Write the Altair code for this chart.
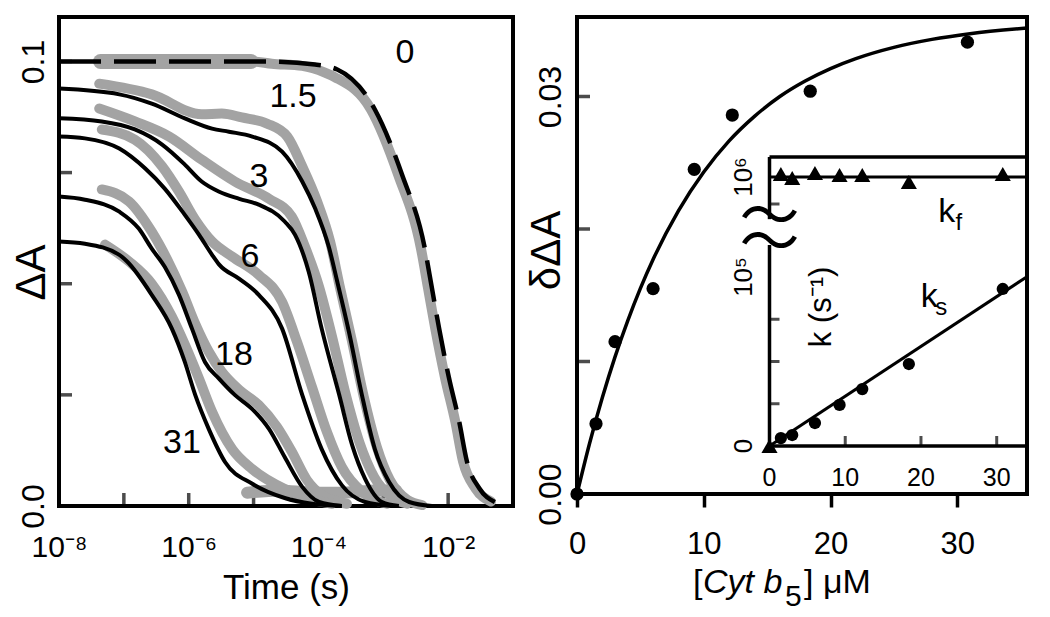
import altair as alt
import pandas as pd

FONT = "Liberation Sans"
GRAY = "#a3a3a3"

# ---------------- Left panel: decays of ΔA vs time (log10 t values) ----------------
fit0_logt = [-8.00, -5.50, -4.82, -4.05, -3.71, -3.13, -2.71, -2.36, -2.25, -2.14, -1.99, -1.83, -1.71, -1.52, -1.28]
fit0_dA = [0.1000, 0.1000, 0.1000, 0.0993, 0.0982, 0.0892, 0.0745, 0.0580, 0.0490, 0.0400, 0.0290, 0.0190, 0.0100, 0.0040, 0.0009]

fit15_logt = [-8.00, -7.07, -6.57, -6.06, -5.64, -5.38, -5.02, -4.56, -4.25, -4.05, -3.84, -3.71, -3.53, -3.33, -3.13, -2.91, -2.60, -2.25]
fit15_dA = [0.0939, 0.0926, 0.0905, 0.0872, 0.0849, 0.0842, 0.0831, 0.0797, 0.0730, 0.0669, 0.0583, 0.0505, 0.0392, 0.0250, 0.0128, 0.0054, 0.0009, 0.0000]

fit3_logt = [-8.00, -7.34, -6.83, -6.41, -6.06, -5.80, -5.53, -5.22, -4.92, -4.52, -4.36, -4.15, -3.95, -3.68, -3.48, -3.28, -3.02, -2.76]
fit3_dA = [0.0872, 0.0865, 0.0847, 0.0813, 0.0768, 0.0730, 0.0707, 0.0691, 0.0678, 0.0640, 0.0610, 0.0527, 0.0399, 0.0250, 0.0137, 0.0061, 0.0009, 0.0000]

fit6_logt = [-8.00, -7.60, -7.07, -6.67, -6.37, -6.06, -5.84, -5.64, -5.53, -5.22, -4.92, -4.56, -4.25, -3.95, -3.64, -3.28, -2.87]
fit6_dA = [0.0831, 0.0827, 0.0804, 0.0759, 0.0714, 0.0655, 0.0610, 0.0565, 0.0543, 0.0511, 0.0475, 0.0399, 0.0250, 0.0128, 0.0047, 0.0009, 0.0000]

fit18_logt = [-8.00, -7.60, -7.07, -6.77, -6.57, -6.37, -6.15, -5.95, -5.75, -5.53, -5.29, -5.02, -4.76, -4.52, -4.25, -3.99, -3.64]
fit18_dA = [0.0696, 0.0689, 0.0662, 0.0624, 0.0579, 0.0538, 0.0475, 0.0399, 0.0324, 0.0286, 0.0250, 0.0218, 0.0173, 0.0110, 0.0043, 0.0009, 0.0000]

fit31_logt = [-8.00, -7.60, -7.07, -6.95, -6.57, -6.26, -6.06, -5.90, -5.69, -5.44, -5.02, -4.52, -4.10, -3.64]
fit31_dA = [0.0595, 0.0590, 0.0565, 0.0550, 0.0475, 0.0399, 0.0324, 0.0250, 0.0173, 0.0099, 0.0050, 0.0018, 0.0005, 0.0000]

# measured (grey) traces
data0_logt = [-7.34, -5.02, -4.72, -4.25, -3.90, -3.75, -3.19, -2.77, -2.42, -2.31, -2.20, -2.05, -1.89, -1.77, -1.58, -1.34]
data0_dA = [0.1000, 0.1000, 0.0995, 0.0990, 0.0975, 0.0965, 0.0892, 0.0745, 0.0580, 0.0490, 0.0400, 0.0290, 0.0190, 0.0100, 0.0040, 0.0010]
data0top_logt = [-7.36, -5.04]
data0top_dA = [0.1000, 0.1000]

data15_logt = [-7.38, -6.57, -5.80, -5.49, -5.18, -4.79, -4.48, -4.25, -4.02, -3.82, -3.67, -3.48, -3.30, -3.10, -2.90, -2.63, -2.40]
data15_dA = [0.0950, 0.0926, 0.0881, 0.0883, 0.0874, 0.0860, 0.0831, 0.0764, 0.0685, 0.0595, 0.0493, 0.0369, 0.0245, 0.0133, 0.0059, 0.0014, 0.0002]

data3_logt = [-7.38, -6.83, -6.30, -5.80, -5.29, -4.76, -4.41, -4.21, -3.99, -3.79, -3.59, -3.37, -3.14, -2.87, -2.63]
data3_dA = [0.0894, 0.0865, 0.0831, 0.0779, 0.0730, 0.0691, 0.0651, 0.0584, 0.0493, 0.0381, 0.0257, 0.0144, 0.0065, 0.0020, 0.0005]

data6_logt = [-7.34, -6.83, -6.41, -6.15, -5.90, -5.64, -5.33, -4.92, -4.56, -4.33, -4.10, -3.87, -3.64, -3.33, -2.94]
data6_dA = [0.0847, 0.0824, 0.0764, 0.0707, 0.0644, 0.0595, 0.0561, 0.0520, 0.0459, 0.0369, 0.0268, 0.0167, 0.0088, 0.0032, 0.0005]

data18_logt = [-7.34, -6.92, -6.57, -6.33, -6.10, -5.90, -5.69, -5.49, -5.22, -4.92, -4.64, -4.41, -4.18, -3.95, -3.56]
data18_dA = [0.0712, 0.0685, 0.0617, 0.0554, 0.0482, 0.0410, 0.0347, 0.0302, 0.0261, 0.0227, 0.0178, 0.0122, 0.0059, 0.0025, 0.0005]

data31_logt = [-7.29, -6.92, -6.57, -6.26, -6.06, -5.84, -5.64, -5.33, -5.02, -4.52, -4.10, -3.79]
data31_dA = [0.0588, 0.0550, 0.0500, 0.0426, 0.0363, 0.0286, 0.0212, 0.0128, 0.0083, 0.0038, 0.0014, 0.0005]

database_logt = [-5.10, -4.60, -4.10, -3.60, -3.10, -2.80]
database_dA = [0.0030, 0.0035, 0.0030, 0.0030, 0.0035, 0.0035]

curve_labels = ["0", "1.5", "3", "6", "18", "31"]
label_logt = [-2.665, -4.392, -4.916, -5.055, -5.302, -6.104]
label_dA = [0.1018, 0.0919, 0.0741, 0.0559, 0.0340, 0.0142]

left_xtick_vals = [1e-7, 1e-6, 1e-5, 1e-4, 1e-3, 1e-2]
left_ytick_vals = [0.025, 0.05, 0.075, 0.1]

# ---------------- Right panel: amplitude vs [Cyt b5] ----------------
conc = [0, 1.5, 3, 6, 9.25, 12.25, 18.4, 30.8]
amp = [0.0, 0.0053, 0.0115, 0.0155, 0.0245, 0.0286, 0.0304, 0.0341]
amp_fit_conc = [0, 1, 2, 3, 4, 5, 6, 8, 10, 12, 14, 16, 18, 20, 22, 25, 28, 31, 35.5]
amp_fit_val = [0, 0.00385, 0.00728, 0.01035, 0.01307, 0.01552, 0.0177, 0.02137, 0.0243, 0.02665,
               0.0285, 0.0300, 0.03117, 0.03211, 0.03286, 0.03371, 0.03431, 0.03474, 0.03517]
right_ytick_vals = [0.01, 0.02, 0.03]

# inset: rate constants
k_conc = [1.5, 3, 6, 9.25, 12.25, 18.4, 30.8]
ks_val = [4700, 6500, 13600, 24300, 33700, 48500, 92900]
kf_val = [1.028e6, 0.991e6, 1.037e6, 1.019e6, 1.019e6, 0.954e6, 1.028e6]
ks_fit_conc = [0, 34]
ks_fit_val = [0, 103000]
kf_fit_conc = [0, 34]
kf_fit_val = [1.0e6, 1.0e6]
inset_xmax = 34
inset_ytop = 1.185e6
inset_break = [385000, 615000]
inset_xtick_vals = [10, 20, 30]
inset_ytick_vals = [25000, 50000, 75000, 750000]
inset_xlabels = ["0", "10", "20", "30"]
inset_xlabel_vals = [0, 10, 20, 30]
inset_ylabels = ["0", "10⁵", "10⁶"]
inset_ylabel_vals = [0, 1e5, 1e6]
brace_vals = [612000, 388000]


def decay_table(logt, vals, name):
    return pd.DataFrame({"t": [10.0 ** v for v in logt], "dA": vals,
                         "curve": name, "i": list(range(len(vals)))})


solid_df = pd.concat([decay_table(fit15_logt, fit15_dA, "1.5"), decay_table(fit3_logt, fit3_dA, "3"),
                      decay_table(fit6_logt, fit6_dA, "6"), decay_table(fit18_logt, fit18_dA, "18"),
                      decay_table(fit31_logt, fit31_dA, "31")])
dashed_df = decay_table(fit0_logt, fit0_dA, "0")
gray_df = pd.concat([decay_table(data0_logt, data0_dA, "0"), decay_table(data15_logt, data15_dA, "1.5"),
                     decay_table(data3_logt, data3_dA, "3"), decay_table(data6_logt, data6_dA, "6"),
                     decay_table(data18_logt, data18_dA, "18"), decay_table(data31_logt, data31_dA, "31")])
gray_top_df = decay_table(data0top_logt, data0top_dA, "0top")
gray_base_df = decay_table(database_logt, database_dA, "base")
label_df = pd.DataFrame({"t": [10.0 ** v for v in label_logt], "dA": label_dA, "label": curve_labels})
lxt_df = pd.DataFrame({"t": left_xtick_vals, "dA": [0.0] * len(left_xtick_vals)})
lyt_df = pd.DataFrame({"t": [1e-8] * len(left_ytick_vals), "dA": left_ytick_vals})

x_left = alt.Scale(type="log", domain=[1e-8, 1e-1], nice=False)
y_left = alt.Scale(domain=[0, 0.11], nice=False, zero=False)

ax_lx = alt.Axis(values=[1e-8, 1e-6, 1e-4, 1e-2],
                 labelExpr="datum.value < 1e-7 ? '10⁻⁸' : (datum.value < 1e-5 ? '10⁻⁶' : (datum.value < 1e-3 ? '10⁻⁴' : '10⁻²'))",
                 ticks=False, tickSize=0, domain=False, grid=False, labelFontSize=30, labelPadding=26,
                 labelFlush=False, labelOverlap=False, labelColor="black",
                 title="Time (s)", titleFontSize=35, titleFontWeight="normal", titleColor="black",
                 titleBaseline="alphabetic", titleY=92)
ax_ly = alt.Axis(values=[0, 0.1], format=".1f", labelAngle=270, labelAlign="center", labelBaseline="bottom",
                 labelFontSize=32, labelPadding=9, ticks=False, tickSize=0, domain=False, grid=False,
                 labelFlush=False, labelOverlap=False, labelColor="black",
                 title="ΔA", titleFontSize=42, titleFontWeight="normal", titleColor="black",
                 titleAngle=270, titleAlign="center", titleBaseline="middle", titleX=-28, titleY=255)


def LX():
    return alt.X("t:Q", scale=x_left, axis=ax_lx)


def LY():
    return alt.Y("dA:Q", scale=y_left, axis=ax_ly)


l_xticks = alt.Chart(lxt_df).mark_tick(orient="vertical", size=13, thickness=3.5, yOffset=-6.5, color="black").encode(x=LX(), y=LY())
l_yticks = alt.Chart(lyt_df).mark_tick(orient="horizontal", size=13, thickness=3.5, xOffset=6.5, color="black").encode(x=LX(), y=LY())
l_gray_base = alt.Chart(gray_base_df).mark_line(color=GRAY, strokeWidth=12, strokeCap="round", interpolate="monotone").encode(
    x=LX(), y=LY(), detail="curve:N", order="i:Q")
l_gray_top = alt.Chart(gray_top_df).mark_line(color=GRAY, strokeWidth=15, strokeCap="round").encode(
    x=LX(), y=LY(), detail="curve:N", order="i:Q")
l_gray = alt.Chart(gray_df).mark_line(color=GRAY, strokeWidth=10, strokeCap="round", strokeJoin="round", interpolate="monotone").encode(
    x=LX(), y=LY(), detail="curve:N", order="i:Q")
l_dashed = alt.Chart(dashed_df).mark_line(color="black", strokeWidth=4.5, strokeDash=[42, 13], interpolate="monotone").encode(
    x=LX(), y=LY(), order="i:Q")
l_solid = alt.Chart(solid_df).mark_line(color="black", strokeWidth=4, interpolate="monotone").encode(
    x=LX(), y=LY(), detail="curve:N", order="i:Q")
l_labels = alt.Chart(label_df).mark_text(fontSize=34, align="center", baseline="middle", color="black").encode(
    x=LX(), y=LY(), text="label:N")

left = alt.layer(l_xticks, l_yticks, l_gray_base, l_gray_top, l_gray, l_dashed, l_solid, l_labels).properties(width=454, height=489)

# ---------------- right panel ----------------
x_r = alt.Scale(domain=[0, 35.5], nice=False, zero=False)
y_r = alt.Scale(domain=[0, 0.036], nice=False, zero=False)
ax_rx = alt.Axis(values=[0, 10, 20, 30], ticks=True, tickSize=13, tickWidth=3.5, tickColor="black", domain=False, grid=False,
                 labelFontSize=31, labelPadding=22, labelFlush=False, labelOverlap=False, labelColor="black", title="")
ax_ry = alt.Axis(values=[0, 0.03], format=".2f", labelAngle=270, labelAlign="center", labelBaseline="bottom",
                 labelFontSize=32, labelPadding=10, ticks=False, tickSize=0, domain=False, grid=False,
                 labelFlush=False, labelOverlap=False, labelColor="black",
                 title="δΔA", titleFontSize=42, titleFontWeight="normal", titleColor="black",
                 titleAngle=270, titleAlign="center", titleBaseline="middle", titleX=-31, titleY=233)


def RX():
    return alt.X("c:Q", scale=x_r, axis=ax_rx)


def RY():
    return alt.Y("v:Q", scale=y_r, axis=ax_ry)


pts_df = pd.DataFrame({"c": conc, "v": amp})
fit_df = pd.DataFrame({"c": amp_fit_conc, "v": amp_fit_val})
ryt_df = pd.DataFrame({"c": [0.0] * len(right_ytick_vals), "v": right_ytick_vals})

r_fit = alt.Chart(fit_df).mark_line(color="black", strokeWidth=3.5, interpolate="monotone").encode(x=RX(), y=RY())
r_pts = alt.Chart(pts_df).mark_circle(size=175, color="black", opacity=1).encode(x=RX(), y=RY())
r_yticks = alt.Chart(ryt_df).mark_tick(orient="horizontal", size=13, thickness=3.5, xOffset=6.5, color="black").encode(x=RX(), y=RY())

one = pd.DataFrame({"a": [0]})
t1 = alt.Chart(one).mark_text(text="[", fontSize=34, align="left", baseline="alphabetic", color="black").encode(
    x=alt.value(116), y=alt.value(576))
t2 = alt.Chart(one).mark_text(text="Cyt b", fontSize=34, fontStyle="italic", align="left", baseline="alphabetic", color="black").encode(
    x=alt.value(126), y=alt.value(576))
t3 = alt.Chart(one).mark_text(text="5", fontSize=30, align="left", baseline="alphabetic", color="black").encode(
    x=alt.value(208), y=alt.value(589))
t4 = alt.Chart(one).mark_text(text="] μM", fontSize=34, align="left", baseline="alphabetic", color="black").encode(
    x=alt.value(227), y=alt.value(576))

main_r = alt.layer(r_yticks, r_fit, r_pts, t1, t2, t3, t4)

# inset
xs_in = alt.Scale(domain=[0, inset_xmax], range=[192.5, 450], nice=False, zero=False)
ys_in = alt.Scale(domain=[0, 100000, 750000, 1000000], range=[429, 260, 187, 160], nice=False, zero=False)


def IX(f="x"):
    return alt.X(f + ":Q", scale=xs_in, axis=None)


def IY(f="y"):
    return alt.Y(f + ":Q", scale=ys_in, axis=None)


frame_df = pd.DataFrame({
    "x": [0, 0, 0, 0],
    "x2": [0, 0, inset_xmax, inset_xmax],
    "y": [0, inset_break[1], inset_ytop, 0],
    "y2": [inset_break[0], inset_ytop, inset_ytop, 0],
})
i_frame = alt.Chart(frame_df).mark_rule(color="black", strokeWidth=3.5).encode(
    x=IX(), x2=alt.X2("x2:Q"), y=IY(), y2=alt.Y2("y2:Q"))
i_ksfit = alt.Chart(pd.DataFrame({"x": ks_fit_conc, "y": ks_fit_val})).mark_line(color="black", strokeWidth=3).encode(x=IX(), y=IY())
i_kffit = alt.Chart(pd.DataFrame({"x": kf_fit_conc, "y": kf_fit_val})).mark_line(color="black", strokeWidth=3).encode(x=IX(), y=IY())
i_ks = alt.Chart(pd.DataFrame({"x": k_conc, "y": ks_val})).mark_circle(size=150, color="black", opacity=1).encode(x=IX(), y=IY())
i_kf = alt.Chart(pd.DataFrame({"x": k_conc + [0], "y": kf_val + [0]})).mark_point(
    shape="triangle-up", size=260, filled=True, color="black", opacity=1).encode(x=IX(), y=IY())
i_xt = alt.Chart(pd.DataFrame({"x": inset_xtick_vals, "y": [0] * 3})).mark_tick(
    orient="vertical", size=10, thickness=3, yOffset=-5, color="black").encode(x=IX(), y=IY())
i_yt = alt.Chart(pd.DataFrame({"x": [0] * 4, "y": inset_ytick_vals})).mark_tick(
    orient="horizontal", size=10, thickness=3, xOffset=5, color="black").encode(x=IX(), y=IY())
i_xl = alt.Chart(pd.DataFrame({"x": inset_xlabel_vals, "y": [0] * 4, "s": inset_xlabels})).mark_text(
    fontSize=25, yOffset=32, align="center", baseline="middle", color="black").encode(x=IX(), y=IY(), text="s:N")
i_yl = alt.Chart(pd.DataFrame({"x": [0] * 3, "y": inset_ylabel_vals, "s": inset_ylabels})).mark_text(
    fontSize=26, angle=270, xOffset=-26, align="center", baseline="middle", color="black").encode(x=IX(), y=IY(), text="s:N")
i_brace = alt.Chart(pd.DataFrame({"x": [0, 0], "y": brace_vals, "s": ["〜", "〜"]})).mark_text(
    fontSize=60, font="Noto Sans CJK JP", align="center", baseline="middle", color="black").encode(x=IX(), y=IY(), text="s:N")
i_k = alt.Chart(pd.DataFrame({"x": [23.4, 21.1], "y": [678800, 88166], "s": ["k", "k"]})).mark_text(
    fontSize=34, align="center", baseline="middle", color="black").encode(x=IX(), y=IY(), text="s:N")
i_sub = alt.Chart(pd.DataFrame({"x": [23.4, 21.1], "y": [678800, 88166], "s": ["f", "s"]})).mark_text(
    fontSize=24, align="center", baseline="middle", dx=12, dy=11, color="black").encode(x=IX(), y=IY(), text="s:N")
i_title = alt.Chart(pd.DataFrame({"x": [6.96], "y": [82249], "s": ["k (s⁻¹)"]})).mark_text(
    fontSize=31, angle=270, align="center", baseline="middle", color="black").encode(x=IX(), y=IY(), text="s:N")

inset = alt.layer(i_frame, i_ksfit, i_kffit, i_ks, i_kf, i_xt, i_yt, i_xl, i_yl, i_brace, i_k, i_sub, i_title)

right = alt.layer(main_r, inset).resolve_scale(x="independent", y="independent").properties(width=450, height=477)

chart = alt.hconcat(left, right, spacing=64, bounds="flush").properties(
    padding={"left": 0, "top": 7, "right": 0, "bottom": 0}
).configure(font=FONT).configure_view(stroke="black", strokeWidth=4)

chart.save("out.html", embed_options={"renderer": "svg", "actions": False})
